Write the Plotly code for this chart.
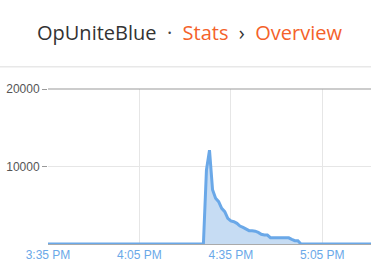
import plotly.graph_objects as go
import pandas as pd

# minutes after 15:35 and values
start = "2020-01-01 15:35"
minutes = list(range(0, 107))
nonzero = {
    52: 9550, 53: 12100, 54: 7000, 55: 5900, 56: 5460, 57: 4600, 58: 4170,
    59: 3310, 60: 2970, 61: 2880, 62: 2670, 63: 2320, 64: 2150, 65: 1890,
    66: 1720, 67: 1700, 68: 1650, 69: 1500, 70: 1250, 71: 1160, 72: 1160,
    73: 820, 74: 800, 75: 800, 76: 800, 77: 800, 78: 800, 79: 800,
    80: 600, 81: 430, 82: 430,
}
values = [nonzero.get(m, 0) for m in minutes]
times = [pd.Timestamp(start) + pd.Timedelta(minutes=m) for m in minutes]

y_ticks = [10000, 20000]
y_tick_labels = ["10000", "20000"]
title_html = ('<span style="color:#333333">OpUniteBlue</span>'
              '<span style="color:#444444">  ·  </span>'
              '<span style="color:#f4622a">Stats</span>'
              '<span style="color:#333333">  ›  </span>'
              '<span style="color:#f4622a">Overview</span>')

fig = go.Figure()
fig.add_trace(go.Scatter(
    x=times, y=values, mode="lines",
    line=dict(color="#6aa8e8", width=3),
    fill="tozeroy", fillcolor="#c6dcf3",
    hoverinfo="skip",
))

fig.update_layout(
    width=371, height=265,
    margin=dict(l=48, r=0, t=89, b=21),
    paper_bgcolor="white", plot_bgcolor="white",
    showlegend=False,
    font=dict(family="Liberation Sans, Arial, sans-serif", size=12),
    xaxis=dict(
        range=[times[0], times[-1]],
        tick0=times[0], dtick=30 * 60 * 1000,
        tickformat="%-I:%M %p",
        tickfont=dict(color="#6aa8e8", size=12),
        showgrid=True, gridcolor="#e6e6e6", gridwidth=1,
        showline=True, linecolor="#aaaaaa", linewidth=1,
        ticks="", zeroline=False,
    ),
    yaxis=dict(
        range=[0, 20000],
        tickvals=y_ticks, ticktext=y_tick_labels,
        tickfont=dict(color="#555555", size=12),
        showgrid=True, gridcolor="#e6e6e6", gridwidth=1,
        ticks="outside", ticklen=5, tickcolor="#999999",
        showline=False, zeroline=False,
    ),
    annotations=[dict(
        text=title_html, xref="paper", yref="paper",
        x=(189 - 48) / 323, y=(244 - 32) / 155, xanchor="center", yanchor="middle",
        showarrow=False,
        font=dict(family="Open Sans", size=20),
    )],
    shapes=[
        dict(type="line", xref="paper", yref="paper",
             x0=-48 / 323, x1=1, y0=(244 - 66.7) / 155, y1=(244 - 66.7) / 155,
             line=dict(color="#e8e8e8", width=1.5)),
        dict(type="line", xref="paper", yref="paper",
             x0=0, x1=1, y0=1, y1=1,
             line=dict(color="#999999", width=1)),
    ],
)

fig.write_html("out.html")
